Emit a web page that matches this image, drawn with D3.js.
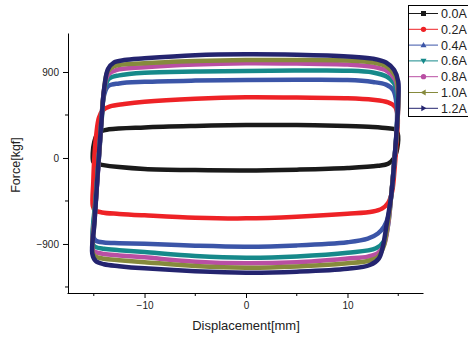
<!DOCTYPE html>
<html><head><meta charset="utf-8">
<script src="https://cdn.jsdelivr.net/npm/d3@7/dist/d3.min.js"></script>
<style>html,body{margin:0;padding:0;background:#fff;}svg{display:block;}</style>
</head><body>
<svg id="c" width="468" height="340"></svg>
<script>
const seriesNames = ["0.0A","0.2A","0.4A","0.6A","0.8A","1.0A","1.2A"];
const seriesColors = ["#1a1a1a","#ee2226","#3b55a8","#16898a","#b94fa3","#868a3c","#24246f"];
const seriesSymbols = ["square","circle","triUp","triDown","diamond","triLeft","triRight"];
const xMajorTicks = [-10, 0, 10];
const xMinorTicks = [-15, -5, 5, 15];
const yMajorTicks = [-900, 0, 900];
const yMinorTicks = [-1350, -450, 450];

// [displacement mm, force kgf], closed loops
const loop00 = [[-15.05,-40],[-15.1,50],[-14.95,170],[-14.7,240],[-14.3,280],[-13.5,300],[-10,320],[-5,335],[0,345],[5,345],[10,335],[12.5,325],[14,312],[14.7,298],[14.95,255],[14.9,100],[14.6,0],[14.0,-60],[13,-82],[10,-105],[5,-122],[0,-131],[-5,-127],[-10,-115],[-12.5,-95],[-14.2,-72],[-14.85,-58]];
const loop02 = [[-15.1,-500],[-15.05,-250],[-14.95,0],[-14.75,250],[-14.5,420],[-14.1,500],[-13.4,540],[-12,565],[-10,589],[-5,620],[0,635],[5,632],[10,626],[12.5,610],[14,582],[14.7,535],[14.95,420],[14.85,200],[14.65,-100],[14.4,-350],[14.0,-470],[13.4,-530],[12.5,-560],[10,-584],[5,-615],[0,-632],[-5,-625],[-10,-600],[-12.5,-585],[-14.2,-570],[-14.9,-545]];
const loop04 = [[-15.05,-820],[-14.8,-450],[-14.5,0],[-14.25,400],[-14.0,650],[-13.6,750],[-12.5,780],[-10,797],[-5,810],[0,816],[5,818],[10,815],[12.5,795],[13.8,768],[14.5,712],[14.85,550],[14.85,300],[14.6,-50],[14.3,-400],[14.0,-620],[13.6,-720],[13,-790],[12,-845],[10,-882],[5,-915],[0,-928],[-5,-918],[-10,-898],[-12.5,-892],[-14.0,-885],[-14.8,-865]];
const loop06 = [[-15.1,-900],[-14.85,-450],[-14.5,0],[-14.22,400],[-13.95,720],[-13.5,830],[-12.5,865],[-10,893],[-5,905],[0,910],[5,915],[10,914],[12.5,895],[13.9,850],[14.6,780],[14.95,600],[14.85,300],[14.6,-50],[14.3,-400],[14.0,-700],[13.6,-870],[12.8,-945],[10,-992],[5,-1030],[0,-1043],[-5,-1025],[-10,-985],[-12.5,-965],[-14.0,-950],[-14.85,-930]];
const loop08 = [[-15.1,-960],[-14.9,-600],[-14.6,-150],[-14.3,300],[-14.0,700],[-13.6,870],[-12.8,920],[-10,949],[-5,978],[0,991],[5,988],[10,978],[12.5,955],[13.9,910],[14.7,820],[15.0,650],[14.87,300],[14.6,-50],[14.3,-400],[14.0,-700],[13.6,-910],[13.0,-995],[12,-1032],[10,-1052],[5,-1090],[0,-1102],[-5,-1085],[-10,-1040],[-12.5,-1020],[-14.0,-1005],[-14.85,-985]];
const loop10 = [[-15.12,-990],[-14.92,-650],[-14.65,-200],[-14.35,250],[-14.0,700],[-13.65,900],[-13.0,960],[-10,991],[-5,1015],[0,1026],[5,1025],[10,1020],[12.5,1000],[13.9,955],[14.7,860],[15.0,700],[14.87,300],[14.6,-50],[14.3,-400],[13.95,-700],[13.55,-930],[13.0,-1035],[12,-1078],[10,-1102],[5,-1135],[0,-1148],[-5,-1130],[-10,-1090],[-12.5,-1070],[-14.0,-1055],[-14.85,-1030]];
const loop12 = [[-15.15,-1000],[-14.95,-700],[-14.7,-300],[-14.45,100],[-14.2,450],[-13.95,750],[-13.6,930],[-13.0,1000],[-12,1025],[-10,1043],[-5,1075],[0,1085],[5,1080],[10,1063],[12.5,1040],[13.8,1000],[14.6,920],[15.0,800],[15.0,600],[14.85,300],[14.6,-50],[14.3,-400],[13.85,-700],[13.5,-920],[13.1,-1050],[12.2,-1120],[10,-1160],[5,-1190],[0,-1200],[-5,-1185],[-10,-1155],[-12.5,-1132],[-14.0,-1112],[-14.8,-1080]];
const loops = [loop00, loop02, loop04, loop06, loop08, loop10, loop12];

const svg = d3.select("#c");
const x = d3.scaleLinear().domain([-17.64, 17.44]).range([67, 423]);
const y = d3.scaleLinear().domain([-1413, 1308]).range([293, 33]);

// curves
const line = d3.line().x(d => x(d[0])).y(d => y(d[1])).curve(d3.curveCatmullRomClosed.alpha(0.5));
const gCurves = svg.append("g");
loops.forEach((lp, i) => {
  gCurves.append("path").attr("d", line(lp)).attr("fill", "none")
    .attr("stroke", seriesColors[i]).attr("stroke-width", 4.5).attr("stroke-linejoin", "round");
});

// axes
const font = "'Liberation Sans', Arial, sans-serif";
const xAxis = svg.append("g").attr("transform", "translate(0,293)")
  .call(d3.axisBottom(x).tickValues(xMajorTicks).tickSize(5).tickSizeOuter(0).tickPadding(4).tickFormat(d3.format("d")));
xMinorTicks.forEach(v => xAxis.append("line").attr("x1", x(v)).attr("x2", x(v)).attr("y1", 0).attr("y2", 3).attr("stroke", "#000"));
const yAxis = svg.append("g").attr("transform", "translate(68,0)")
  .call(d3.axisLeft(y).tickValues(yMajorTicks).tickSize(5).tickSizeOuter(0).tickPadding(4).tickFormat(d3.format("d")));
yMinorTicks.forEach(v => yAxis.append("line").attr("x1", 0).attr("x2", -3).attr("y1", y(v)).attr("y2", y(v)).attr("stroke", "#000"));
[xAxis, yAxis].forEach(a => {
  a.selectAll("text").attr("font-family", font).attr("font-size", 10).attr("fill", "#222");
  a.select(".domain").attr("stroke", "#000");
  a.selectAll(".tick line").attr("stroke", "#000");
});

svg.append("text").attr("x", 246).attr("y", 330).attr("text-anchor", "middle")
  .attr("font-family", font).attr("font-size", 13).attr("fill", "#222").text("Displacement[mm]");
svg.append("text").attr("transform", "translate(20,165) rotate(-90)").attr("text-anchor", "middle")
  .attr("font-family", font).attr("font-size", 12.5).attr("fill", "#222").text("Force[kgf]");

// legend
const lg = svg.append("g");
lg.append("rect").attr("x", 408.5).attr("y", 5.5).attr("width", 100).attr("height", 111)
  .attr("fill", "#fff").attr("stroke", "#000").attr("stroke-width", 1);
const symPath = {
  square: "M-2.5,-2.5h5v5h-5z",
  circle: d3.symbol(d3.symbolCircle, 22)(),
  triUp: "M0,-3L3,2.2L-3,2.2Z",
  triDown: "M0,3L3,-2.2L-3,-2.2Z",
  diamond: d3.symbol(d3.symbolCircle, 22)(),
  triLeft: "M-3,0L2.2,-3L2.2,3Z",
  triRight: "M3,0L-2.2,-3L-2.2,3Z"
};
seriesNames.forEach((nm, i) => {
  const cy = 13.5 + i * 15.8;
  lg.append("line").attr("x1", 409).attr("x2", 438).attr("y1", cy).attr("y2", cy)
    .attr("stroke", seriesColors[i]).attr("stroke-width", 1);
  lg.append("path").attr("d", symPath[seriesSymbols[i]]).attr("transform", `translate(423.5,${cy})`)
    .attr("fill", seriesColors[i]);
  lg.append("text").attr("x", 441).attr("y", cy + 4.5).attr("font-family", font).attr("font-size", 12.5)
    .attr("fill", "#222").text(nm);
});
</script>
</body></html>
